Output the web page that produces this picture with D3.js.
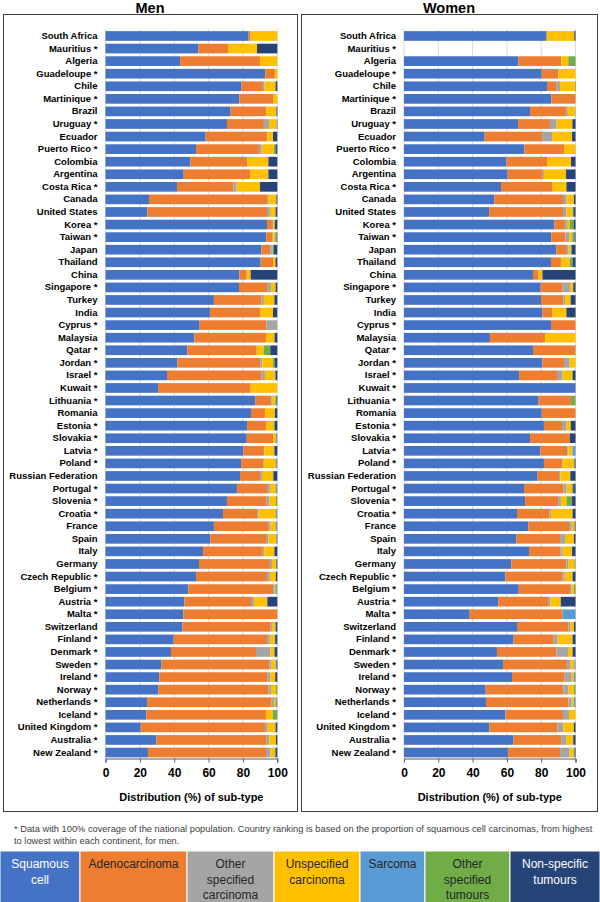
<!DOCTYPE html>
<html><head><meta charset="utf-8">
<script src="https://cdn.jsdelivr.net/npm/d3@7"></script>
<style>body{margin:0;background:#fff}svg{display:block;font-family:"Liberation Sans",Arial,sans-serif}</style>
</head><body><svg id="c" width="600" height="902"></svg>
<script>
const countries=["South Africa","Mauritius *","Algeria","Guadeloupe *","Chile","Martinique *","Brazil","Uruguay *","Ecuador","Puerto Rico *","Colombia","Argentina","Costa Rica *","Canada","United States","Korea *","Taiwan *","Japan","Thailand","China","Singapore *","Turkey","India","Cyprus *","Malaysia","Qatar *","Jordan *","Israel *","Kuwait *","Lithuania *","Romania","Estonia *","Slovakia *","Latvia *","Poland *","Russian Federation","Portugal *","Slovenia *","Croatia *","France","Spain","Italy","Germany","Czech Republic *","Belgium *","Austria *","Malta *","Switzerland","Finland *","Denmark *","Sweden *","Ireland *","Norway *","Netherlands *","Iceland *","United Kingdom *","Australia *","New Zealand *"];
const subtypes=["Squamous cell","Adenocarcinoma","Other specified carcinoma","Unspecified carcinoma","Sarcoma","Other specified tumours","Non-specific tumours"];
const colors=["#4472C4","#ED7D31","#A5A5A5","#FFC000","#5B9BD5","#70AD47","#264478"];
const ticks=[0,20,40,60,80,100];

// Men: one array per sub-type, same order as countries
const menSquamous=[83.3,54,43.4,93,79.2,77.9,72.8,70.7,58.3,52.7,49.4,45.5,41.6,25.3,24.3,94,93.6,90.7,90.3,77.9,77.7,63.1,60.8,54.8,51.7,47.6,41.8,35.8,30.6,87.2,84.7,82.4,82.2,80.2,78.9,78.3,76.5,70.7,68.4,63.1,61,56.8,54.4,52.7,48.2,45.9,45.3,44.7,39.7,38.1,32.5,31.3,30.7,24.2,23.8,20.5,29.6,24.7];
const menAdeno=[1.2,17.3,46.5,5.6,11.9,19.6,20.6,21.5,35.7,36.6,33,38.6,32.8,68.7,69.7,2.9,3.7,5.2,7.2,4.3,16.3,27.8,29.1,38.8,41.7,40.4,48.5,55.1,53.9,9.1,8.1,11,15.3,12,12.8,11.6,17.5,23.1,19.8,31.9,32.4,34.7,41.3,41.3,49.3,38.8,54.7,51.4,54.3,49.5,63,62.9,64.1,72.5,69.6,72.3,64.2,68.7];
const menOtherCarc=[0,0,0,0,1.5,0,0.4,3,0.2,1.6,0,0,1.9,1,1.7,0.6,0.3,1,0,0,2.3,1.3,0,6.4,0,0,1,1.9,0,0.5,0,0,0,0.2,0.5,1.2,1.7,1.7,0.9,1.1,1.4,0.9,1.2,1.7,0.8,1.7,0,0.8,1.7,8.3,1.2,1.7,1.5,1.4,0,1.6,1.5,2.5];
const menUnspec=[15.5,16.9,10.1,1.4,6.4,2.5,5.4,4.4,3.3,7.2,12.4,10.7,13.6,4.2,3.3,1.1,1.2,0.3,1.5,2.3,2.7,6.1,7.6,0,5,4.1,6.2,5.6,15.5,1.8,5.8,4.7,1.7,5.9,7,6.6,3.5,3.7,10.1,3.1,4.6,5.9,2.3,3.5,0.5,7.8,0,1.9,2.7,2.5,2.3,2.9,2.9,1.1,3.9,4.6,3.9,2.5];
const menSarcoma=[0,0,0,0,0,0,0.4,0.2,0,0,0,0,0,0.3,0,0,0,0,0,0,0,0,0,0,0,0,0,0,0,0.4,0,0,0.8,0,0.8,0,0.8,0,0.8,0.8,0.3,0,0.3,0,0.5,0,0,0.4,0,0,0.5,0,0,0.8,0,0,0,0];
const menOtherTum=[0,0,0,0,0,0,0,0,0,0.9,0,0,0,0,0,0,0.8,0.6,0,0,0,0,0,0,0,3.8,0.9,0.6,0,0.5,0,0.5,0,0,0,0,0,0.8,0,0,0,0,0,0,0.7,0,0,0,0.4,0,0,0,0.8,0,2.7,0,0,0.6];
const menNonSpec=[0,11.8,0,0,1,0,0.4,0.2,2.5,1,5.2,5.2,10.1,0.5,1,1.4,0.4,2.2,1,15.5,1,1.7,2.5,0,1.6,4.1,1.6,1,0,0.5,1.4,1.4,0,1.7,0,2.3,0,0,0,0,0.3,1.7,0.5,0.8,0,5.8,0,0.8,1.2,1.6,0.5,1.2,0,0,0,1,0.8,1];

// Women
const womenSquamous=[83.2,0,66.7,80.3,83.4,85.9,73.5,66.5,47,70.2,59.7,60.4,56.6,52.7,49.6,87.7,85.9,88.8,85.7,75.2,79.7,79.9,80.7,85.7,50.1,75.2,80.7,67.1,100,78.5,80.3,81.6,73.5,79.5,81.6,77.9,70,70.6,65.9,72.5,65.5,72.9,62.6,59.1,66.9,55,38.3,65.9,63.9,54.2,57.7,63,47.6,47.8,59.1,49.8,63.9,60.6];
const womenAdeno=[0,0,25,9.7,5.6,14.1,21.2,18.6,33.5,23.1,23.7,20.5,30.1,40,43.1,5.6,8.2,5.7,5.8,3.3,12.8,13,5.6,14.3,32.1,24.8,12.6,22.1,0,18.9,19.7,10.5,23.3,15.7,10.7,12.5,22.9,19.3,19,23.7,25.5,18.3,32.1,33.4,29.9,29,54.2,30.1,23.4,34.6,37.3,30.7,45.3,48,33.6,39.6,27.8,30.4];
const womenOtherCarc=[0,0,0,0,2,0,0.9,3.9,5.8,0,0,0.7,0,2.1,2.1,1.7,2.3,1.5,0,0,4.3,1,0,0,0,0,3.3,3.3,0,0,0,2.6,0,0.6,0.3,0.9,1.9,1.6,0.8,1.6,2.9,1.3,1.3,1.2,1,1.3,0,1.2,2.3,6.8,2.2,4.1,3.1,2,3.5,3.5,2.8,5.6];
const womenUnspec=[16.1,0,4.1,10,8.8,0,4.2,9.2,11.7,6.7,14,12.9,8,4.3,3.5,1.6,1.6,1.2,5.1,2.2,1.9,3.3,8.4,0,17.8,0,3.4,5.5,0,0,0,2.5,0,2.4,6.5,5.7,3,3.3,12.6,1.7,5.2,5.5,3.3,4.3,1.3,6.1,0,1.9,8.7,2.7,2.1,1.3,3.1,1.3,3.8,6.2,4.2,2.3];
const womenSarcoma=[0,0,0,0,0,0,0.2,0,0,0,0,0,0,0,0,0,0.3,0,0,0,0,0,0,0,0,0,0,0,0,0,0,0,0,1.8,0,0,0,0,0,0,0,0,0,0,0,0,7.5,0,0,0,0.7,0.9,0,0.9,0,0,0,0];
const womenOtherTum=[0,0,4.2,0,0,0,0,0,0,0,0,0,0,0,0.5,2.3,1.1,0.6,1.7,0,0,0,0,0,0,0,0,0.5,0,2.6,0,0,0,0,0.3,0,0.9,3.2,0,0,0,0,0.7,0.5,0.9,0,0,0,0,0,0,0,0.9,0,0,0,0,0.5];
const womenNonSpec=[0.7,0,0,0,0.2,0,0,1.8,2,0,2.6,5.5,5.3,0.9,1.2,1.1,0.6,2.2,1.7,19.3,1.3,2.8,5.3,0,0,0,0,1.5,0,0,0,2.8,3.2,0,0.6,3,1.3,2,1.7,0.5,0.9,2,0,1.5,0,8.6,0,0.9,1.7,1.7,0,0,0,0,0,0.9,1.3,0.6];

const menSeries=[menSquamous,menAdeno,menOtherCarc,menUnspec,menSarcoma,menOtherTum,menNonSpec];
const womenSeries=[womenSquamous,womenAdeno,womenOtherCarc,womenUnspec,womenSarcoma,womenOtherTum,womenNonSpec];

const svg=d3.select("#c");
const panels=[
 {title:"Men",fx:3,fw:294,x0:105.5,x1:277.3,series:menSeries},
 {title:"Women",fx:301,fw:296,x0:404,x1:575.5,series:womenSeries}
];
const y=d3.scaleBand().domain(countries).range([29.7,758.8]).paddingInner(0.23).paddingOuter(0.115);

panels.forEach(p=>{
  const g=svg.append("g");
  g.append("rect").attr("x",p.fx+0.5).attr("y",14.5).attr("width",p.fw).attr("height",797)
   .attr("fill","none").attr("stroke","#404040").attr("stroke-width",1);
  g.append("text").attr("x",p.fx+p.fw/2).attr("y",13).attr("text-anchor","middle")
   .attr("font-size",14.5).attr("font-weight","bold").attr("fill","#000").text(p.title);
  const x=d3.scaleLinear().domain([0,100]).range([p.x0,p.x1]);
  // gridlines
  g.append("g").selectAll("line").data(ticks).join("line")
   .attr("x1",d=>x(d)).attr("x2",d=>x(d)).attr("y1",29).attr("y2",758.5)
   .attr("stroke","#D9D9D9").attr("stroke-width",1);
  // stacked bars
  const rows=countries.map((c,i)=>{const o={country:c};subtypes.forEach((s,k)=>o[s]=p.series[k][i]);return o;});
  const stacked=d3.stack().keys(subtypes)(rows);
  g.append("g").selectAll("g").data(stacked).join("g").attr("fill",(d,i)=>colors[i])
   .selectAll("rect").data(d=>d).join("rect")
   .attr("x",d=>x(d[0])).attr("width",d=>Math.max(0,x(d[1])-x(d[0])))
   .attr("y",d=>y(d.data.country)).attr("height",y.bandwidth());
  // x axis
  const ax=g.append("g").attr("transform","translate(0,758.5)")
   .call(d3.axisBottom(x).tickValues(ticks).tickSize(4).tickPadding(6).tickFormat(d3.format("d")));
  ax.select(".domain").attr("stroke","#595959");
  ax.selectAll(".tick line").attr("stroke","#595959");
  ax.selectAll("text").attr("font-size",12).attr("font-weight","bold").attr("fill","#000")
   .attr("font-family","Liberation Sans, Arial, sans-serif");
  // y labels
  const yl=g.append("g").attr("transform",`translate(${p.x0},0)`)
   .call(d3.axisLeft(y).tickSize(0).tickPadding(8));
  yl.select(".domain").remove();
  yl.selectAll("text").attr("font-size",9.5).attr("font-weight","bold").attr("fill","#000")
   .attr("font-family","Liberation Sans, Arial, sans-serif");
  g.append("text").attr("x",(p.x0+p.x1)/2).attr("y",801).attr("text-anchor","middle")
   .attr("font-size",11).attr("font-weight","bold").attr("fill","#000").text("Distribution (%) of sub-type");
});

// footnote
const fn=["* Data with 100% coverage of the national population. Country ranking is based on the proportion of squamous cell carcinomas, from highest","to lowest within each continent, for men."];
svg.append("g").selectAll("text").data(fn).join("text")
 .attr("x",14).attr("y",(d,i)=>832+i*12).attr("font-size",9.3).attr("fill","#404040").text(d=>d);

// legend
const legendLines=[["Squamous","cell"],["Adenocarcinoma"],["Other","specified","carcinoma"],["Unspecified","carcinoma"],["Sarcoma"],["Other","specified","tumours"],["Non-specific","tumours"]];
const legendEdges=[0,80,187,274,360,425,510,600];
const lg=svg.append("g");
subtypes.forEach((s,i)=>{
  const x0=legendEdges[i],x1=legendEdges[i+1];
  lg.append("rect").attr("x",x0).attr("y",851).attr("width",x1-x0).attr("height",60)
   .attr("fill",colors[i]).attr("stroke","#fff").attr("stroke-width",1);
  const tc=(i===0||i===6)?"#fff":"#262626";
  lg.append("g").selectAll("text").data(legendLines[i]).join("text")
   .attr("x",(x0+x1)/2).attr("y",(d,j)=>868+j*15.5).attr("text-anchor","middle")
   .attr("font-size",12).attr("fill",tc).text(d=>d);
});
</script></body></html>
